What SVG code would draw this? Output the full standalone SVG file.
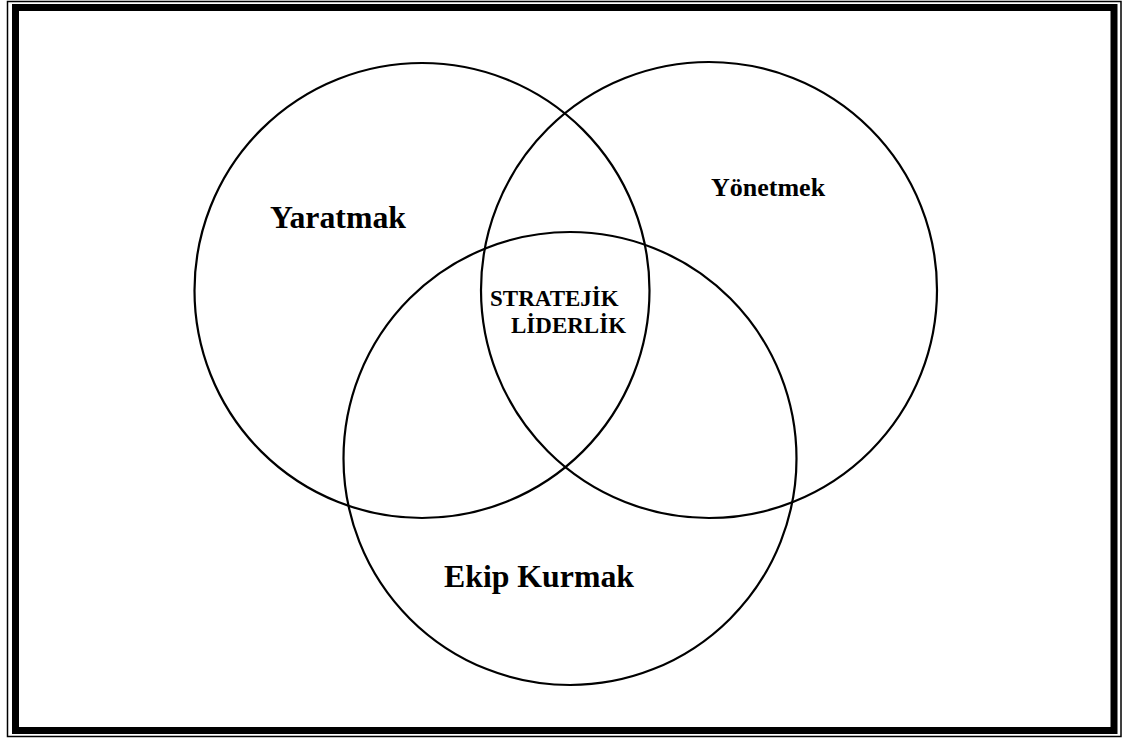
<svg xmlns="http://www.w3.org/2000/svg" width="1135" height="740" viewBox="0 0 1135 740">
  <style>
    .frame-thin { fill: none; stroke: #000; stroke-width: 1.5; }
    .frame-thick { fill: none; stroke: #000; stroke-width: 7; }
    .set { fill: none; stroke: #000; stroke-width: 2.2; }
    .label { font-family: "Liberation Serif", "Times New Roman", serif; font-weight: bold; fill: #000; }
    .big { font-size: 31.8px; }
    .mid { font-size: 26px; }
    .small { font-size: 23px; }
  </style>
  <rect width="1135" height="740" fill="#fff"/>
  <!-- double page frame -->
  <g id="frame">
    <rect class="frame-thin" x="7.5" y="1.5" width="1113.5" height="735"/>
    <rect class="frame-thick" x="15.5" y="7.5" width="1098.5" height="723"/>
  </g>
  <g id="connectors"></g>
  <!-- three overlapping sets -->
  <g id="yaratmak">
    <circle class="set" cx="422" cy="290.5" r="227.5"/>
    <text class="label big" x="270" y="228">Yaratmak</text>
  </g>
  <g id="yonetmek">
    <circle class="set" cx="709" cy="290" r="228"/>
    <text class="label mid" x="711" y="196">Yönetmek</text>
  </g>
  <g id="ekip-kurmak">
    <circle class="set" cx="570" cy="458.5" r="226.5"/>
    <text class="label big" x="444" y="587">Ekip Kurmak</text>
  </g>
  <g id="stratejik-liderlik">
    <text class="label small" x="490" y="306">STRATEJİK</text>
    <text class="label small" x="511" y="333">LİDERLİK</text>
  </g>
</svg>
